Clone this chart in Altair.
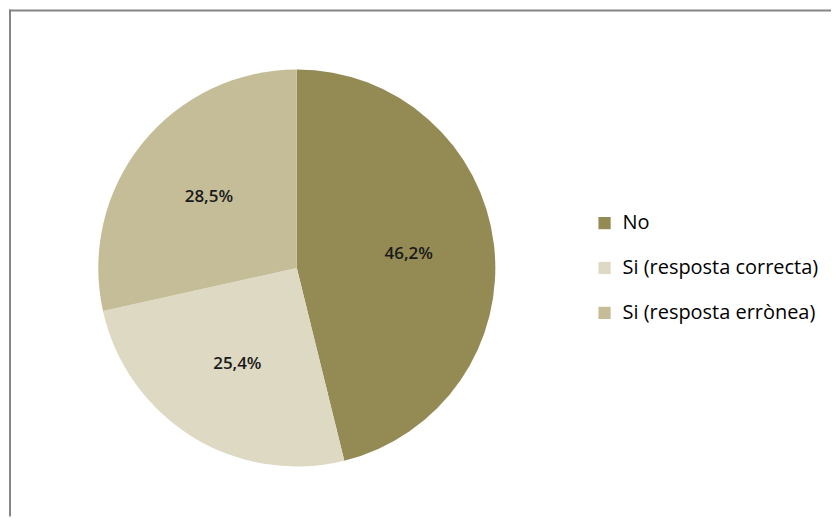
import altair as alt
import pandas as pd

categories = ["No", "Si (resposta correcta)", "Si (resposta errònea)"]
values = [46.2, 25.4, 28.5]
colors = ["#948A54", "#DDD9C3", "#C4BD97"]

df = pd.DataFrame({"cat": categories, "val": values, "ord": list(range(len(categories)))})

FONT = "Open Sans"
W, H = 824, 508
CX, CY = 288.5, 259

base = alt.Chart(df).encode(
    theta=alt.Theta("val:Q", stack=True),
    order=alt.Order("ord:Q"),
)

pie = base.mark_arc(outerRadius=199, stroke=None).encode(
    x=alt.value(CX),
    y=alt.value(CY),
    color=alt.Color(
        "cat:N",
        scale=alt.Scale(domain=categories, range=colors),
        sort=categories,
        legend=alt.Legend(
            title=None,
            orient="none",
            legendX=587,
            legendY=204,
            symbolType="square",
            symbolSize=150,
            symbolStrokeWidth=0,
            labelFontSize=20,
            labelFont=FONT,
            labelColor="#000000",
            rowPadding=25,
            labelOffset=8,
            labelLimit=400,
        ),
    ),
)

labels = base.transform_calculate(
    lab="replace(format(datum.val, '.1f'), '.', ',') + '%'"
).mark_text(radius=113, font=FONT, fontSize=17, fontWeight=600, color="#1a1a1a", dy=0).encode(
    x=alt.value(CX),
    y=alt.value(CY),
    text="lab:N",
)

# chart frame (only top and left edges are visible in the reference)
frame_top = alt.Chart(df.head(1)).mark_rule(color="#868686", strokeWidth=2).encode(
    x=alt.value(0), x2=alt.value(W), y=alt.value(1)
)
frame_left = alt.Chart(df.head(1)).mark_rule(color="#868686", strokeWidth=2).encode(
    x=alt.value(1), y=alt.value(0), y2=alt.value(H)
)

chart = (
    alt.layer(pie, labels, frame_top, frame_left)
    .properties(width=W, height=H, padding=0)
    .configure_view(stroke=None)
)

chart.save("out.html", embed_options={"renderer": "svg", "actions": False})
